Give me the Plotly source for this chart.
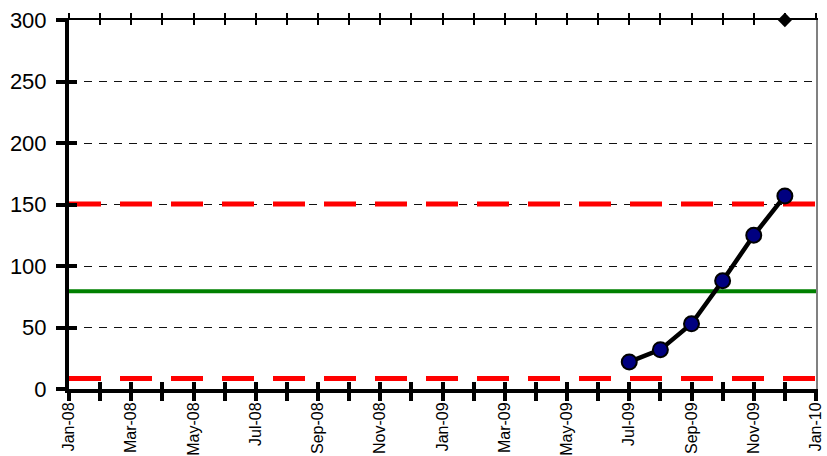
import plotly.graph_objects as go

# Month axis: Jan-08 .. Jan-10, one tick per month, labels every other month
months = ["Jan-08", "Feb-08", "Mar-08", "Apr-08", "May-08", "Jun-08", "Jul-08", "Aug-08",
          "Sep-08", "Oct-08", "Nov-08", "Dec-08", "Jan-09", "Feb-09", "Mar-09", "Apr-09",
          "May-09", "Jun-09", "Jul-09", "Aug-09", "Sep-09", "Oct-09", "Nov-09", "Dec-09",
          "Jan-10"]
tick_labels = [m if i % 2 == 0 else "" for i, m in enumerate(months)]

# Observed series
obs_months = ["Jul-09", "Aug-09", "Sep-09", "Oct-09", "Nov-09", "Dec-09"]
obs_values = [22, 32, 53, 88, 125, 157]

# Control limits
center_line = 79.5
upper_limit = 150.5
lower_limit = 8.5

# Marker on the top edge
flag_month = ["Dec-09"]
flag_value = [300]

y_ticks = [0, 50, 100, 150, 200, 250, 300]

idx = {m: i for i, m in enumerate(months)}
obs_x = [idx[m] for m in obs_months]
x_span = [0, len(months) - 1]

FONT = "Liberation Sans"

fig = go.Figure()

# Control limits (red dashed) and centre line (green)
for lim in (upper_limit, lower_limit):
    fig.add_trace(go.Scatter(x=x_span, y=[lim, lim], mode="lines",
                             line=dict(color="#FF0000", width=5, dash="32px,19px"),
                             hoverinfo="skip", showlegend=False))
fig.add_trace(go.Scatter(x=x_span, y=[center_line, center_line], mode="lines",
                         line=dict(color="#008000", width=4),
                         hoverinfo="skip", showlegend=False))

# Observations
fig.add_trace(go.Scatter(x=obs_x, y=obs_values, mode="lines+markers",
                         line=dict(color="black", width=4.5),
                         marker=dict(size=15, color="#000080",
                                     line=dict(color="black", width=2)),
                         showlegend=False))

# Diamond on the top edge
fig.add_trace(go.Scatter(x=[idx[m] for m in flag_month], y=flag_value, mode="markers",
                         marker=dict(symbol="diamond", size=11, color="black"),
                         cliponaxis=False, showlegend=False))

# Small grey pointer on the right edge
fig.add_trace(go.Scatter(x=[x_span[1] + 0.2], y=[250], mode="markers",
                         marker=dict(symbol="triangle-left", size=7, color="#D0D0D0",
                                     line=dict(color="#808080", width=1)),
                         cliponaxis=False, showlegend=False))

# Empty traces to bind the overlay axes
for xa, ya in (("x2", "y"), ("x3", "y"), ("x4", "y"), ("x", "y2"), ("x", "y3")):
    fig.add_trace(go.Scatter(x=[], y=[], xaxis=xa, yaxis=ya, showlegend=False))

x_range = [x_span[0], x_span[1]]
y_range = [0, 300]

common = dict(automargin=False, zeroline=False, showgrid=False)

fig.update_layout(
    width=827, height=456,
    margin=dict(l=69, r=11, t=20, b=67, autoexpand=False),
    paper_bgcolor="white", plot_bgcolor="white",
    font=dict(family=FONT, color="black"),
    xaxis=dict(range=x_range, tickmode="array", tickvals=list(range(len(months))),
               ticktext=tick_labels, tickangle=-90,
               tickfont=dict(size=16, family=FONT),
               ticks="outside", ticklen=8, tickwidth=4, tickcolor="black",
               ticklabelstandoff=-5,
               showline=True, linewidth=4, linecolor="black", anchor="y", **common),
    xaxis2=dict(range=x_range, overlaying="x", anchor="y", side="bottom",
                tickmode="array", tickvals=list(range(len(months))), showticklabels=False,
                ticks="inside", ticklen=7, tickwidth=4, tickcolor="black",
                showline=False, **common),
    xaxis3=dict(range=x_range, overlaying="x", anchor="y", side="top",
                tickmode="array", tickvals=list(range(len(months))), showticklabels=False,
                ticks="outside", ticklen=5, tickwidth=2, tickcolor="black",
                showline=True, linewidth=2, linecolor="black", **common),
    xaxis4=dict(range=x_range, overlaying="x", anchor="y", side="top",
                tickmode="array", tickvals=list(range(len(months))), showticklabels=False,
                ticks="inside", ticklen=5, tickwidth=2, tickcolor="black",
                showline=False, **common),
    yaxis=dict(range=y_range, tickmode="array", tickvals=y_ticks,
               tickfont=dict(size=22, family=FONT), ticks="outside", ticklen=9, tickwidth=4,
               tickcolor="black", ticklabelstandoff=5,
               showline=True, linewidth=4, linecolor="black",
               showgrid=True, gridcolor="#111111", gridwidth=1.2, griddash="8px,7px",
               zeroline=False, automargin=False, anchor="x"),
    yaxis2=dict(range=y_range, overlaying="y", anchor="x", side="left",
                tickmode="array", tickvals=y_ticks, showticklabels=False,
                ticks="inside", ticklen=8, tickwidth=4, tickcolor="black",
                showline=False, **common),
    yaxis3=dict(range=y_range, overlaying="y", anchor="x", side="right",
                showticklabels=False, ticks="",
                showline=True, linewidth=1.5, linecolor="#808080", **common),
)

fig.write_html("out.html")
